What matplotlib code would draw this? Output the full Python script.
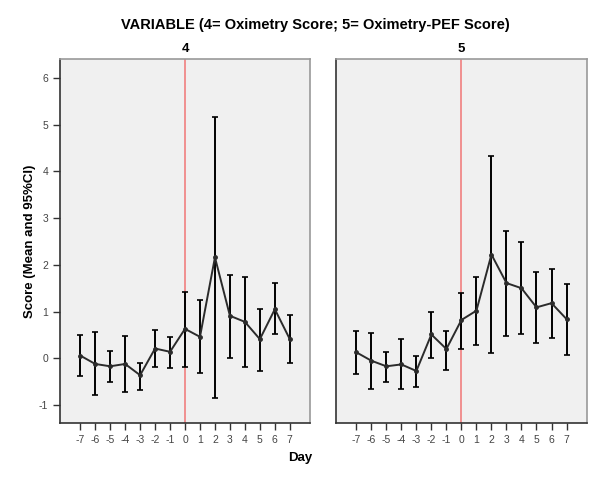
import numpy as np
import matplotlib.pyplot as plt

plt.rcParams['font.family'] = ['Liberation Sans', 'DejaVu Sans']
plt.rcParams['axes.unicode_minus'] = False

days = np.arange(-7, 8)

# variable 4 = Oximetry Score
mean4 = [0.06, -0.12, -0.17, -0.12, -0.36, 0.21, 0.14, 0.63, 0.46, 2.16, 0.91, 0.78, 0.41, 1.05, 0.41]
upper4 = [0.50, 0.57, 0.16, 0.48, -0.09, 0.61, 0.46, 1.42, 1.24, 5.17, 1.79, 1.73, 1.06, 1.62, 0.92]
lower4 = [-0.37, -0.79, -0.50, -0.71, -0.67, -0.19, -0.21, -0.19, -0.31, -0.84, 0.01, -0.18, -0.27, 0.51, -0.11]

# variable 5 = Oximetry-PEF Score
mean5 = [0.13, -0.05, -0.17, -0.13, -0.27, 0.51, 0.20, 0.82, 1.02, 2.22, 1.61, 1.50, 1.09, 1.18, 0.84]
upper5 = [0.59, 0.54, 0.14, 0.41, 0.05, 1.00, 0.59, 1.39, 1.75, 4.33, 2.72, 2.49, 1.84, 1.90, 1.60]
lower5 = [-0.34, -0.65, -0.50, -0.66, -0.61, 0.01, -0.24, 0.21, 0.29, 0.11, 0.48, 0.52, 0.33, 0.44, 0.07]

panels = [("4", mean4, lower4, upper4), ("5", mean5, lower5, upper5)]

fig = plt.figure(figsize=(6, 4.8), dpi=100)
ax1 = fig.add_axes([0.1, 0.119, 0.4167, 0.758])
ax2 = fig.add_axes([0.56, 0.119, 0.418, 0.758], sharey=ax1)

for ax, (name, m, lo, hi) in zip([ax1, ax2], panels):
    m = np.array(m)
    err = [m - np.array(lo), np.array(hi) - m]
    ax.set_facecolor("#f0f0f0")
    ax.axvline(0, color="#f08080", linewidth=1.2, zorder=1)
    ax.errorbar(days, m, yerr=err, fmt="none", ecolor="black", elinewidth=1.4,
                capsize=2, capthick=1.2, zorder=2)
    ax.plot(days, m, "-o", color="#2b2b2b", linewidth=1.4, markersize=2.5, zorder=3)
    ax.set_xlim(-8.35, 8.35)
    ax.set_ylim(-1.38, 6.4)
    ax.set_xticks(days)
    ax.tick_params(direction="out", length=5, width=1, labelsize=7.5,
                   colors="#333333", labelcolor="#444444")
    for s in ["top", "right"]:
        ax.spines[s].set_color("#999999")
    for s in ["left", "bottom"]:
        ax.spines[s].set_color("#333333")
    for s in ax.spines.values():
        s.set_linewidth(1.2)
    ax.set_title(name, fontsize=9.5, fontweight="bold", pad=5)

ax1.set_yticks(range(-1, 7))
ax2.tick_params(axis="y", left=False, labelleft=False)

ax1.set_ylabel("Score (Mean and 95%CI)", fontsize=9.5, fontweight="bold", labelpad=2)
fig.text(0.5, 0.04, "Day", ha="center", fontsize=9.5, fontweight="bold")
fig.text(0.525, 0.94, "VARIABLE (4= Oximetry Score; 5= Oximetry-PEF Score)",
         ha="center", fontsize=10.5, fontweight="bold")

plt.savefig("out.png", dpi=100)
